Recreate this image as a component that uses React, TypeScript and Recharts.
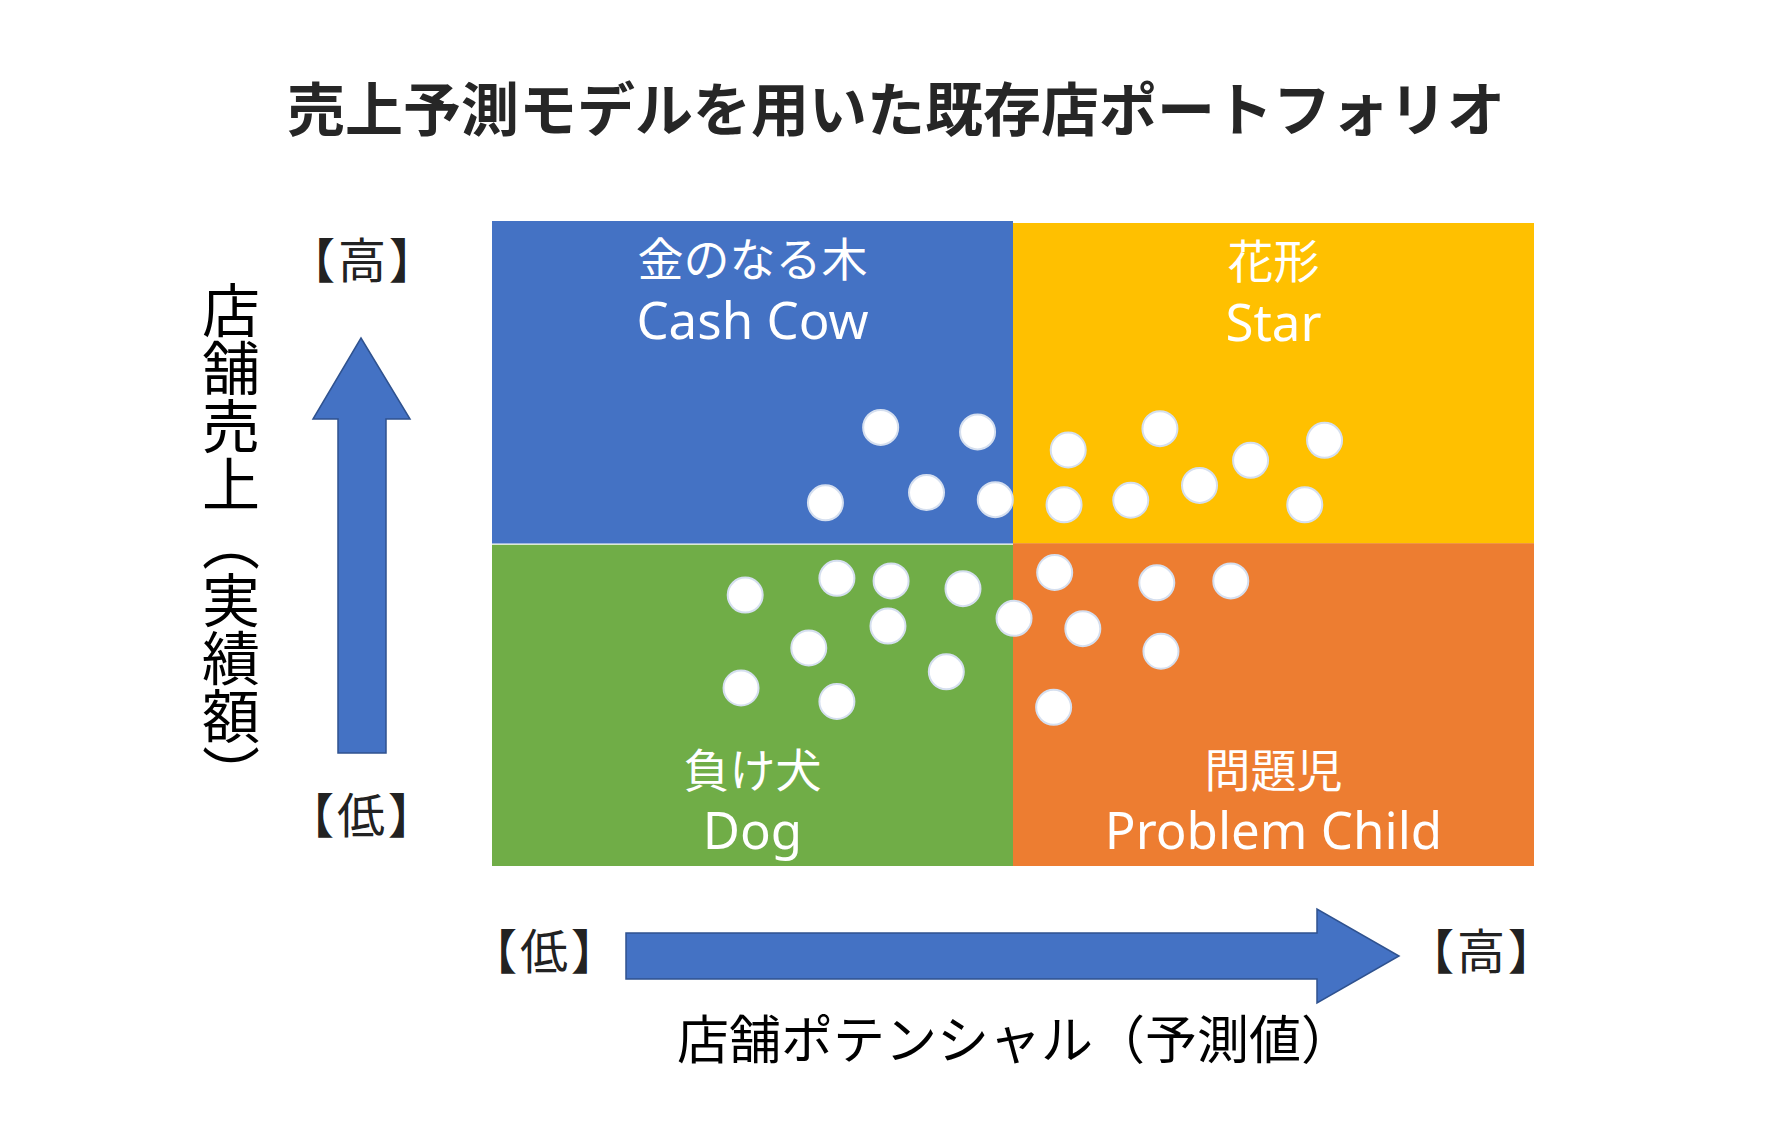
import { ScatterChart, Scatter, XAxis, YAxis, ReferenceArea } from 'recharts'

// 店舗の位置 (x: 店舗ポテンシャル, y: 店舗売上) 0-100
const cashCow = [
  { x: 37.3, y: 68.0 },
  { x: 46.6, y: 67.3 },
  { x: 32.0, y: 56.3 },
  { x: 41.7, y: 57.9 },
  { x: 48.3, y: 56.8 },
]
const star = [
  { x: 55.3, y: 64.5 },
  { x: 64.1, y: 67.8 },
  { x: 72.8, y: 62.9 },
  { x: 79.9, y: 66.0 },
  { x: 54.9, y: 56.0 },
  { x: 61.3, y: 56.7 },
  { x: 67.9, y: 59.0 },
  { x: 78.0, y: 56.0 },
]
const dog = [
  { x: 24.3, y: 42.0 },
  { x: 33.1, y: 44.6 },
  { x: 38.3, y: 44.2 },
  { x: 45.2, y: 43.0 },
  { x: 38.0, y: 37.2 },
  { x: 30.4, y: 33.8 },
  { x: 23.9, y: 27.6 },
  { x: 33.1, y: 25.5 },
  { x: 43.6, y: 30.1 },
  { x: 50.1, y: 38.4 },
]
const problemChild = [
  { x: 54.0, y: 45.5 },
  { x: 63.8, y: 43.9 },
  { x: 70.9, y: 44.2 },
  { x: 56.7, y: 36.8 },
  { x: 64.2, y: 33.3 },
  { x: 53.9, y: 24.6 },
]

const quadrants = [
  { jp: '金のなる木', en: 'Cash Cow', x1: 0, x2: 50, y1: 50, y2: 100, fill: '#4472C4', top: true },
  { jp: '花形', en: 'Star', x1: 50, x2: 100, y1: 50, y2: 99.7, fill: '#FFC000', top: true },
  { jp: '負け犬', en: 'Dog', x1: 0, x2: 50, y1: 0, y2: 49.8, fill: '#70AD47', top: false },
  { jp: '問題児', en: 'Problem Child', x1: 50, x2: 100, y1: 0, y2: 50.05, fill: '#ED7D31', top: false },
]

const title = '売上予測モデルを用いた既存店ポートフォリオ'
const yLabel = '店舗売上（実績額）'
const xLabel = '店舗ポテンシャル（予測値）'

const jpFont = '"Noto Sans CJK JP", sans-serif'
const enFont = '"Noto Sans", sans-serif'

const Dot = (props: any) => (
  <circle cx={props.cx} cy={props.cy} r={17.5} fill="#ffffff" stroke="#D5DFEF" strokeWidth={2} />
)

const quadLabel = (jp: string, en: string, top: boolean) => (props: any) => {
  const { x, y, width, height } = props.viewBox
  const cx = x + width / 2
  const jpY = top ? y + 35 : y + height - 99
  const enY = top ? y + 118 : y + height - 17
  return (
    <g>
      <text x={cx} y={jpY} textAnchor="middle" dominantBaseline="central" fill="#fff"
        style={{ fontFamily: jpFont, fontSize: 46 }}>{jp}</text>
      <text x={cx} y={enY} textAnchor="middle" fill="#fff"
        style={{ fontFamily: enFont, fontSize: 51 }}>{en}</text>
    </g>
  )
}

const Label = ({ text, x, y, size, bold, color, palt, spacing }: any) => (
  <div style={{
    position: 'absolute', left: x, top: y, transform: 'translate(-50%, -50%)',
    fontFamily: jpFont, fontSize: size, fontWeight: bold ? 700 : 400, color: color || '#000',
    lineHeight: 1, whiteSpace: 'nowrap', fontFeatureSettings: palt ? '"palt"' : 'normal',
    letterSpacing: spacing || 0,
  }}>{text}</div>
)

export default function App() {
  return (
    <div style={{ position: 'absolute', left: 0, top: 0, width: 1792, height: 1125, background: '#fff', overflow: 'hidden' }}>
      <ScatterChart width={1792} height={1125} margin={{ top: 221, right: 258, bottom: 259, left: 492 }}>
        <XAxis type="number" dataKey="x" domain={[0, 100]} hide />
        <YAxis type="number" dataKey="y" domain={[0, 100]} hide />
        {quadrants.map((q) => (
          <ReferenceArea key={q.en} x1={q.x1} x2={q.x2} y1={q.y1} y2={q.y2}
            fill={q.fill} fillOpacity={1} stroke="none" label={quadLabel(q.jp, q.en, q.top)} />
        ))}
        <Scatter data={cashCow} shape={Dot} isAnimationActive={false} />
        <Scatter data={star} shape={Dot} isAnimationActive={false} />
        <Scatter data={dog} shape={Dot} isAnimationActive={false} />
        <Scatter data={problemChild} shape={Dot} isAnimationActive={false} />
      </ScatterChart>

      <svg width={1792} height={1125} style={{ position: 'absolute', left: 0, top: 0, pointerEvents: 'none' }}>
        <polygon points="338,753 386,753 386,419 410,419 361,338 313,419 338,419"
          fill="#4472C4" stroke="#2F528F" strokeWidth={1.5} />
        <polygon points="626,933 1317,933 1317,909 1399,956 1317,1003 1317,979 626,979"
          fill="#4472C4" stroke="#2F528F" strokeWidth={1.5} />
      </svg>

      <Label text={title} x={896} y={106} size={58} bold color="#262626" />
      <div style={{
        position: 'absolute', left: 202, top: 281, writingMode: 'vertical-rl',
        fontFamily: jpFont, fontSize: 58, lineHeight: 1, color: '#000',
      }}>{yLabel}</div>
      <Label text="【高】" x={364} y={257} size={48} color="#222" palt spacing={4} />
      <Label text="【低】" x={363} y={812} size={48} color="#222" palt spacing={4} />
      <Label text="【低】" x={546} y={948} size={48} color="#222" palt spacing={4} />
      <Label text="【高】" x={1483} y={948} size={48} color="#222" palt spacing={4} />
      <Label text={xLabel} x={1015} y={1037} size={52} />
    </div>
  )
}
